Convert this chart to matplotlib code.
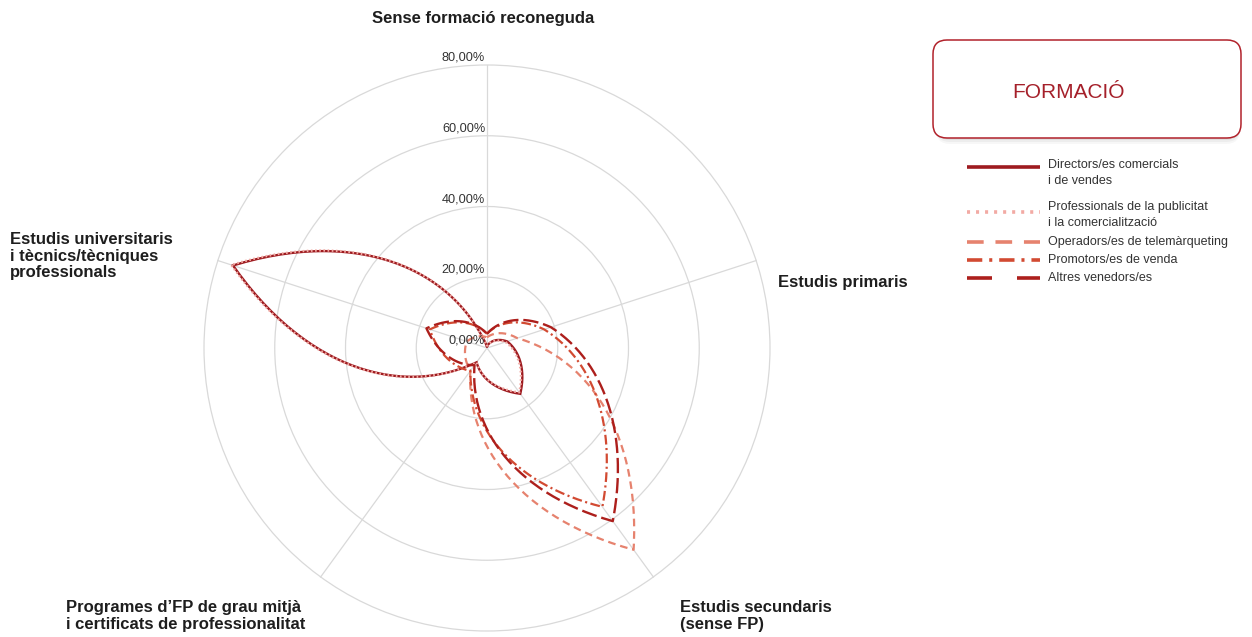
import numpy as np
import matplotlib
matplotlib.use('Agg')
import matplotlib.pyplot as plt
from matplotlib.patches import FancyBboxPatch, Circle

plt.rcParams['font.family'] = ['Liberation Sans', 'DejaVu Sans']
plt.rcParams['lines.scale_dashes'] = False

# ------------------------------------------------------------------
# data: share (%) of each occupation by level of education
# ------------------------------------------------------------------
categories = ['Sense formació reconeguda',
              'Estudis primaris',
              'Estudis secundaris\n(sense FP)',
              'Programes d\u2019FP de grau mitjà\ni certificats de professionalitat',
              'Estudis universitaris\ni tècnics/tècniques\nprofessionals']

directors = [0.5, 6.0, 16.0, 5.0, 75.5]
professionals = [0.5, 5.5, 15.5, 5.0, 76.0]
operadors = [3.0, 9.0, 70.5, 8.0, 6.0]
promotors = [4.0, 17.0, 55.5, 8.0, 17.0]
altres = [4.0, 19.0, 60.5, 6.0, 18.0]

series_names = ['Directors/es comercials\ni de vendes',
                'Professionals de la publicitat\ni la comercialització',
                'Operadors/es de telemàrqueting',
                'Promotors/es de venda',
                'Altres venedors/es']

ring_values = [0, 20, 40, 60, 80]
ring_labels = ['0,00%', '20,00%', '40,00%', '60,00%', '80,00%']

# ------------------------------------------------------------------
# layout (pixels of the 1252x637 picture)
# ------------------------------------------------------------------
W, H = 1252, 637
CX, CY = 487, 348
S = 283 / 80.0          # pixels per percent


def dx(px):
    return (px - CX) / S


def dy(py):
    return (CY - py) / S


def polar_xy(theta, r):
    return r * np.sin(theta), r * np.cos(theta)


def radar_curve(values, n=60):
    k = len(values)
    th = np.arange(k + 1) * 2 * np.pi / k
    vals = list(values) + [values[0]]
    t = np.linspace(0, 1, n)
    xs, ys = [], []
    for i in range(k):
        a, b = th[i], th[i + 1]
        ra, rb = vals[i], vals[i + 1]
        p0 = polar_xy(a, ra)
        p1 = polar_xy(a + (b - a) / 3, ra + (rb - ra) / 3)
        p2 = polar_xy(a + 2 * (b - a) / 3, ra + 2 * (rb - ra) / 3)
        p3 = polar_xy(b, rb)
        for j in range(2):
            c = ((1 - t) ** 3 * p0[j] + 3 * (1 - t) ** 2 * t * p1[j]
                 + 3 * (1 - t) * t ** 2 * p2[j] + t ** 3 * p3[j])
            (xs if j == 0 else ys).append(c)
    return np.concatenate(xs), np.concatenate(ys)


fig = plt.figure(figsize=(W / 100, H / 100), dpi=100)
ax = fig.add_axes([0, 0, 1, 1])
ax.set_xlim(dx(0), dx(W))
ax.set_ylim(dy(H), dy(0))
ax.axis('off')

grid_col = '#d9d9d9'
for r in ring_values[1:]:
    ax.add_patch(Circle((0, 0), r, fill=False, ec=grid_col, lw=0.9, zorder=1))
for i in range(len(categories)):
    x, y = polar_xy(i * 2 * np.pi / len(categories), ring_values[-1])
    ax.plot([0, x], [0, y], color=grid_col, lw=0.9, zorder=1)

for r, lab in zip(ring_values, ring_labels):
    ax.text(-0.5, r + 0.4, lab, ha='right', va='bottom', fontsize=9.2,
            color='#333333', zorder=6)

styles = [
    dict(color='#9e1b20', ls='-', lw=1.7),
    dict(color='#f2aaa4', ls=(0, (1.2, 1.8)), lw=1.7),
    dict(color='#e6826e', ls=(0, (5.5, 3.5)), lw=1.6),
    dict(color='#d24a32', ls=(0, (7, 2.5, 1.5, 2.5)), lw=1.6),
    dict(color='#ad1f1c', ls=(0, (11, 3.5)), lw=1.7),
]
data = [directors, professionals, operadors, promotors, altres]
order = [1, 2, 3, 4, 0]
for idx in order:
    x, y = radar_curve(data[idx])
    ax.plot(x, y, zorder=3 + idx * 0.1, solid_joinstyle='miter', **styles[idx])

# category labels
lab_kw = dict(fontsize=12, fontweight='bold', color='#1e1e1e', linespacing=1.1)
ax.text(dx(483), dy(18), categories[0], ha='center', va='center', **lab_kw)
ax.text(dx(778), dy(283), categories[1], ha='left', va='center', **lab_kw)
ax.text(dx(680), dy(616), categories[2], ha='left', va='center', **lab_kw)
ax.text(dx(66), dy(616), categories[3], ha='left', va='center', **lab_kw)
ax.text(dx(10), dy(256), categories[4], ha='left', va='center', **lab_kw)

# legend box with title
for k, a in enumerate([0.05, 0.04, 0.03]):
    ax.add_patch(FancyBboxPatch((dx(936), dy(140 + 2 * k)), (1240 - 936) / S, (98) / S,
                                boxstyle='round,pad=0,rounding_size=%f' % (14 / S),
                                fc='#000000', ec='none', alpha=a, zorder=4))
ax.add_patch(FancyBboxPatch((dx(933), dy(138)), (1241 - 933) / S, 98 / S,
                            boxstyle='round,pad=0,rounding_size=%f' % (14 / S),
                            fc='white', ec='#b1222b', lw=1.1, zorder=5))
ax.text(dx(1012), dy(92), 'FORMACIÓ', ha='left', va='center', fontsize=15,
        color='#a5202a', zorder=6)

leg_lines = [167, 212, 242, 260, 278]
leg_text = [173, 215, 242, 260, 278]
leg_dash = [
    '-',
    (0, (2.2, 4.3)),
    (0, (12, 8.5)),
    (0, (11, 5, 2.2, 5)),
    (0, (18, 18)),
]
for i in range(len(series_names)):
    ax.plot([dx(967), dx(1040)], [dy(leg_lines[i]), dy(leg_lines[i])],
            color=styles[i]['color'], ls=leg_dash[i], lw=2.6,
            solid_capstyle='butt', dash_capstyle='butt', zorder=6)
    ax.text(dx(1048), dy(leg_text[i]), series_names[i], ha='left', va='center',
            fontsize=9, color='#333333', linespacing=1.45, zorder=6)

fig.savefig('out.png', dpi=100)
